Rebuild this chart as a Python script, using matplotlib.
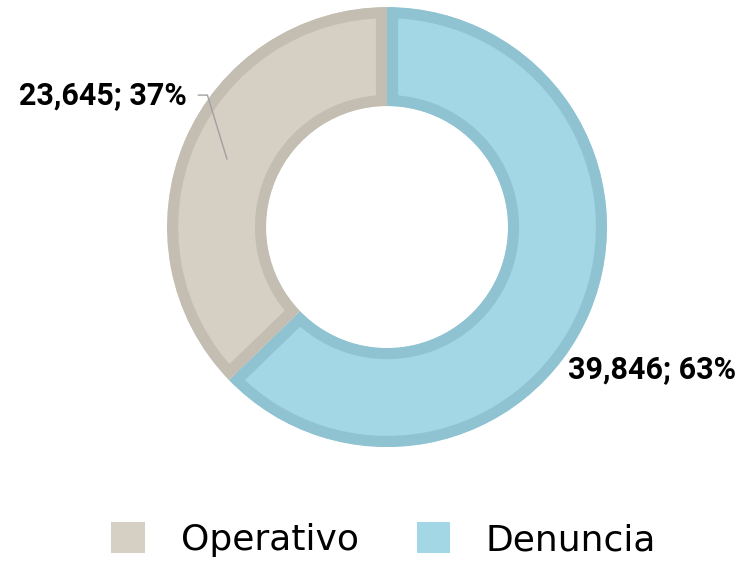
import numpy as np
import matplotlib
matplotlib.use("Agg")
import matplotlib.pyplot as plt
from matplotlib.patches import Patch

# data
categorias = ["Denuncia", "Operativo"]
valores = [39846, 23645]
porcentajes = [63, 37]
relleno = ["#a3d7e5", "#d5cfc4"]
borde = ["#8fc3d2", "#c3beb1"]

plt.rcParams['font.family'] = ['Roboto', 'DejaVu Sans']

fig = plt.figure(figsize=(7.44, 5.64), dpi=100)
ax = fig.add_axes([0.2245, 0.2074, 0.5914, 0.780])

wedges, _ = ax.pie(valores, startangle=90, counterclock=False, colors=relleno,
                   wedgeprops=dict(width=0.45, linewidth=16, joinstyle='miter'))
for w, c in zip(wedges, borde):
    w.set_edgecolor(c)
    w.set_clip_on(True)
    w.set_clip_path(w)  # borde solo hacia dentro

ax.set_xlim(-1, 1)
ax.set_ylim(-1, 1)
ax.axis('off')

# etiquetas
etiquetas = ["{:,}; {}%".format(v, p) for v, p in zip(valores, porcentajes)]

ax.text(0.823, -0.645, etiquetas[0], ha='left', va='center',
        fontsize=22, fontweight='bold', color='black')

w = wedges[1]
ang = np.deg2rad((w.theta1 + w.theta2) / 2)
ax.annotate(etiquetas[1], xy=(0.79 * np.cos(ang), 0.79 * np.sin(ang)),
            xytext=(-0.909, 0.6), ha='right', va='center',
            fontsize=22, fontweight='bold', color='black',
            arrowprops=dict(arrowstyle='-', color='#a0a0a0', lw=1,
                            shrinkA=6, shrinkB=0,
                            connectionstyle='angle,angleA=0,angleB=107,rad=0'))

handles = [Patch(facecolor=relleno[1], edgecolor='none'),
           Patch(facecolor=relleno[0], edgecolor='none')]
fig.legend(handles, [categorias[1], categorias[0]], ncol=2, loc='center',
           bbox_to_anchor=(0.516, 0.043), frameon=False,
           prop={'family': 'DejaVu Sans', 'size': 26},
           handlelength=0.92, handleheight=0.92, handletextpad=1.0,
           columnspacing=1.6)

fig.savefig("out.png", dpi=100)
